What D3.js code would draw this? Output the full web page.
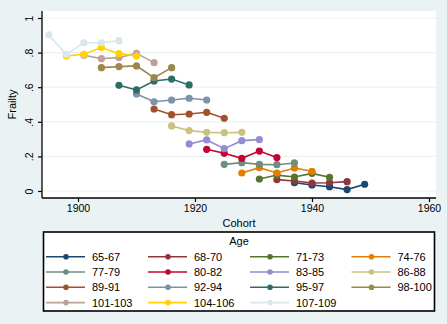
<!DOCTYPE html>
<html>
<head>
<meta charset="utf-8">
<script src="https://cdn.jsdelivr.net/npm/d3@7"></script>
<style>
  html, body { margin: 0; padding: 0; background: #EAF2F3; }
  svg { display: block; font-family: "Liberation Sans", Arial, sans-serif; }
</style>
</head>
<body>
<div id="chart"></div>
<script>
// Age groups (legend order) and Stata s2color palette
const ageGroups = ["65-67", "68-70", "71-73", "74-76", "77-79", "80-82", "83-85", "86-88",
                   "89-91", "92-94", "95-97", "98-100", "101-103", "104-106", "107-109"];
const groupColors = ["#1A476F", "#90353B", "#55752F", "#E37E00", "#6E8E84", "#C10534",
                     "#938DD2", "#CAC27E", "#A0522D", "#7B92A8", "#2D6D66", "#9C8847",
                     "#BFA19C", "#FFD200", "#D9E6EB"];

// First cohort of each age group; cohorts step by 3 years
const firstCohort = [1937, 1934, 1931, 1928, 1925, 1922, 1919, 1916,
                     1913, 1910, 1907, 1904, 1901, 1898, 1895];

// Frailty values, one array per age group
const frailty = [
  [0.048, 0.035, 0.025, 0.008, 0.039],
  [0.066, 0.058, 0.046, 0.048, 0.054],
  [0.069, 0.092, 0.081, 0.102, 0.079],
  [0.104, 0.135, 0.104, 0.133, 0.114],
  [0.154, 0.164, 0.154, 0.152, 0.162],
  [0.241, 0.218, 0.189, 0.231, 0.193],
  [0.272, 0.295, 0.245, 0.291, 0.297],
  [0.376, 0.349, 0.339, 0.337, 0.339],
  [0.474, 0.441, 0.445, 0.455, 0.420],
  [0.561, 0.516, 0.526, 0.536, 0.526],
  [0.611, 0.584, 0.636, 0.647, 0.613],
  [0.713, 0.719, 0.723, 0.655, 0.713],
  [0.785, 0.765, 0.771, 0.796, 0.742],
  [0.780, 0.790, 0.829, 0.794, 0.780],
  [0.902, 0.790, 0.857, 0.857, 0.869]
];

const xTicks = [1900, 1920, 1940, 1960];
const yTicks = [0, 0.2, 0.4, 0.6, 0.8, 1];
const yTickLabels = ["0", ".2", ".4", ".6", ".8", "1"];

const W = 447, H = 324;
const plot = { left: 42, right: 436, top: 11, bottom: 198 };

const svg = d3.select("#chart").append("svg")
  .attr("width", W)
  .attr("height", H);

svg.append("rect").attr("width", W).attr("height", H).attr("fill", "#EAF2F3");

// plot region
svg.append("rect")
  .attr("x", plot.left).attr("y", plot.top)
  .attr("width", plot.right - plot.left).attr("height", plot.bottom - plot.top)
  .attr("fill", "#fff");

const x = d3.scaleLinear().domain([1900, 1960]).range([78, 429]);
const y = d3.scaleLinear().domain([0, 1]).range([191, 18]);

// gridlines
svg.append("g")
  .selectAll("line")
  .data(yTicks)
  .enter()
  .append("line")
  .attr("x1", plot.left).attr("x2", plot.right)
  .attr("y1", d => y(d)).attr("y2", d => y(d))
  .attr("stroke", "#EAF2F3")
  .attr("stroke-width", 1.2);

// Y axis
const yAxis = svg.append("g")
  .attr("transform", `translate(${plot.left},0)`)
  .call(d3.axisLeft(y).tickValues(yTicks).tickSize(4).tickPadding(0)
    .tickFormat((d, i) => yTickLabels[i]));
yAxis.select(".domain").attr("d", `M0,${plot.top}V${plot.bottom}`).attr("stroke", "#000").attr("stroke-width", 1.3);
yAxis.selectAll(".tick line").attr("stroke", "#000").attr("stroke-width", 1.2);
yAxis.selectAll(".tick text")
  .attr("x", 0).attr("dy", null)
  .attr("transform", "translate(-12,0) rotate(-90)")
  .attr("text-anchor", "middle")
  .attr("dominant-baseline", "middle")
  .style("font-size", "10.5px")
  .style("font-family", "Liberation Sans, Arial, sans-serif")
  .attr("fill", "#000");

// X axis
const xAxis = svg.append("g")
  .attr("transform", `translate(0,${plot.bottom})`)
  .call(d3.axisBottom(x).tickValues(xTicks).tickSize(4).tickPadding(3).tickFormat(d3.format("d")));
xAxis.select(".domain").attr("d", `M${plot.left},0H${plot.right}`).attr("stroke", "#000").attr("stroke-width", 1.3);
xAxis.selectAll(".tick line").attr("stroke", "#000").attr("stroke-width", 1.2);
xAxis.selectAll(".tick text")
  .style("font-size", "10.5px")
  .style("font-family", "Liberation Sans, Arial, sans-serif")
  .attr("fill", "#000");

// axis titles
svg.append("text")
  .attr("x", 239).attr("y", 227)
  .attr("text-anchor", "middle")
  .style("font-size", "11px")
  .text("Cohort");

svg.append("text")
  .attr("transform", `translate(13,${(plot.top + plot.bottom) / 2}) rotate(-90)`)
  .attr("text-anchor", "middle")
  .attr("dominant-baseline", "middle")
  .style("font-size", "11px")
  .text("Frailty");

// series
const series = ageGroups.map((g, i) => ({
  name: g,
  color: groupColors[i],
  points: frailty[i].map((v, j) => ({ cohort: firstCohort[i] + 3 * j, value: v }))
}));

const line = d3.line().x(d => x(d.cohort)).y(d => y(d.value));

// draw oldest first so younger groups sit on top, as Stata does in reverse
const drawOrder = series.slice();
const gSeries = svg.append("g");
drawOrder.forEach(s => {
  const g = gSeries.append("g");
  g.append("path")
    .datum(s.points)
    .attr("d", line)
    .attr("fill", "none")
    .attr("stroke", s.color)
    .attr("stroke-width", 1.6);
  g.selectAll("circle")
    .data(s.points)
    .enter()
    .append("circle")
    .attr("cx", d => x(d.cohort))
    .attr("cy", d => y(d.value))
    .attr("r", 3.6)
    .attr("fill", s.color);
});

// legend
const legend = svg.append("g");
legend.append("rect")
  .attr("x", 43.5).attr("y", 232)
  .attr("width", 391).attr("height", 79)
  .attr("fill", "#fff")
  .attr("stroke", "#000")
  .attr("stroke-width", 1.6);

legend.append("text")
  .attr("x", 239).attr("y", 245)
  .attr("text-anchor", "middle")
  .style("font-size", "11px")
  .text("Age");

const colX = [46, 148, 250, 351.5];
const rowY = [256.7, 272, 287.3, 302.6];
series.forEach((s, i) => {
  const cx = colX[i % 4], cy = rowY[Math.floor(i / 4)];
  const item = legend.append("g");
  item.append("line")
    .attr("x1", cx).attr("x2", cx + 39)
    .attr("y1", cy).attr("y2", cy)
    .attr("stroke", s.color)
    .attr("stroke-width", 1.6);
  item.append("circle")
    .attr("cx", cx + 20).attr("cy", cy)
    .attr("r", 2.8)
    .attr("fill", s.color);
  item.append("text")
    .attr("x", cx + 46).attr("y", cy)
    .attr("dominant-baseline", "central")
    .style("font-size", "11px")
    .text(s.name);
});
</script>
</body>
</html>
